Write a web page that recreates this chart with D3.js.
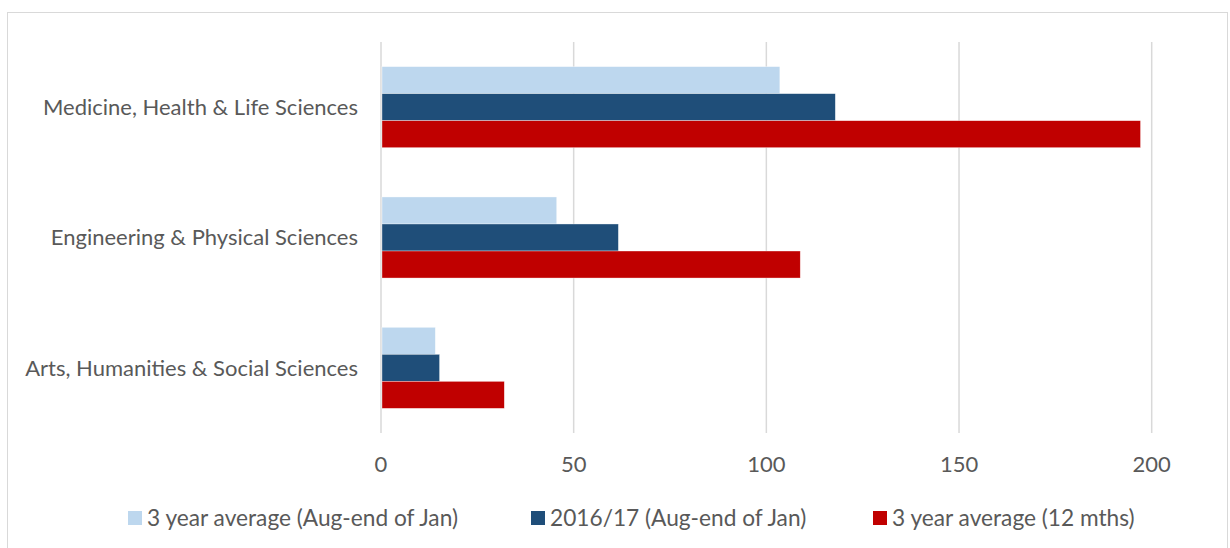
<!DOCTYPE html>
<html>
<head>
<meta charset="utf-8">
<script src="https://cdn.jsdelivr.net/npm/d3@7"></script>
<style>
  html, body { margin: 0; padding: 0; background: #fff; }
  svg { display: block; }
  text { font-family: Lato, "Open Sans", sans-serif; fill: #595959; }
</style>
</head>
<body>
<svg id="chart" width="1230" height="548"></svg>
<script>
const categories = [
  "Medicine, Health & Life Sciences",
  "Engineering & Physical Sciences",
  "Arts, Humanities & Social Sciences"
];
const seriesNames = [
  "3 year average (Aug-end of Jan)",
  "2016/17 (Aug-end of Jan)",
  "3 year average (12 mths)"
];
const avgAugJan = [103.5, 45.6, 14.1];
const year1617 = [117.9, 61.6, 15.2];
const avg12m = [197.1, 108.8, 32.0];
const xTicks = [0, 50, 100, 150, 200];
const colors = ["#BDD7EE", "#1F4E79", "#C00000"];

const seriesValues = [avgAugJan, year1617, avg12m];

const svg = d3.select("#chart");
const plot = { left: 381, right: 1151.7, top: 42, bottom: 433 };

// chart border
svg.append("rect")
  .attr("x", 7.5).attr("y", 12.5)
  .attr("width", 1220).attr("height", 560)
  .attr("fill", "none").attr("stroke", "#d9d9d9").attr("stroke-width", 1);

const x = d3.scaleLinear().domain([0, 200]).range([plot.left, plot.right]);
const y = d3.scaleBand().domain(categories).range([plot.top, plot.bottom])
  .paddingInner(0.378).paddingOuter(0.189);
const ySub = d3.scaleBand().domain(seriesNames).range([0, y.bandwidth()]);

// gridlines
svg.append("g").selectAll("line").data(xTicks).join("line")
  .attr("x1", d => x(d)).attr("x2", d => x(d))
  .attr("y1", plot.top).attr("y2", plot.bottom)
  .attr("stroke", "#d9d9d9").attr("stroke-width", 1.5);

// bars
const groups = svg.append("g").selectAll("g").data(categories).join("g")
  .attr("transform", c => `translate(0,${y(c)})`);
groups.selectAll("rect")
  .data((c, i) => seriesNames.map((s, j) => ({ s, v: seriesValues[j][i], j })))
  .join("rect")
  .attr("x", x(0) + 1)
  .attr("y", d => ySub(d.s))
  .attr("width", d => x(d.v) - x(0) - 1)
  .attr("height", ySub.bandwidth())
  .attr("fill", d => colors[d.j])
  .attr("stroke", "rgba(255,255,255,0.6)").attr("stroke-width", 0.6);

// category labels
svg.append("g").selectAll("text").data(categories).join("text")
  .attr("x", 358)
  .attr("y", c => y(c) + y.bandwidth() / 2)
  .attr("dy", "0.35em")
  .attr("text-anchor", "end")
  .attr("font-size", 22)
  .text(c => c);

// x axis tick labels
svg.append("g").selectAll("text").data(xTicks).join("text")
  .attr("x", d => x(d))
  .attr("y", 472)
  .attr("text-anchor", "middle")
  .attr("font-size", 22)
  .text(d => d);

// legend
const legendX = [128, 531, 873];
const leg = svg.append("g").selectAll("g").data(seriesNames).join("g")
  .attr("transform", (d, i) => `translate(${legendX[i]},511)`);
leg.append("rect").attr("width", 14).attr("height", 14)
  .attr("fill", (d, i) => colors[i]);
leg.append("text").attr("x", 19).attr("y", 14.5)
  .attr("font-size", 22.7)
  .text(d => d);
</script>
</body>
</html>
